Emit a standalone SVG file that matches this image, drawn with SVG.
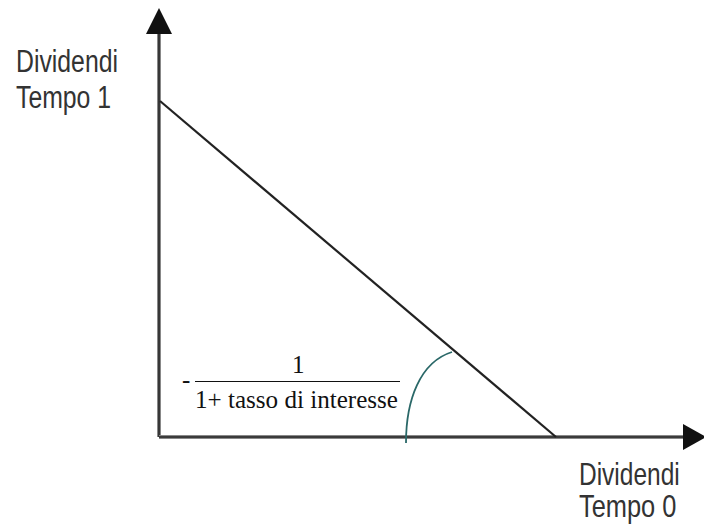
<svg xmlns="http://www.w3.org/2000/svg" width="704" height="527" viewBox="0 0 704 527">
<style>
.lbl{font-family:"Liberation Sans",Arial,sans-serif;font-size:31px;fill:#333}
.math{font-family:"Liberation Serif","Times New Roman",serif;font-size:25px;fill:#111}
.axis-outer{stroke:#888;stroke-width:4;fill:none}
.axis-inner{stroke:#222;stroke-width:1.6;fill:none}
</style>
<rect width="704" height="527" fill="#fff"/>
<g id="connectors">
<g id="y-axis">
<line class="axis-outer" x1="159" y1="30" x2="159" y2="437"/>
<line class="axis-inner" x1="159" y1="30" x2="159" y2="437"/>
<polygon points="159,8 172,34 146,34" fill="#111"/>
</g>
<g id="x-axis">
<line class="axis-outer" x1="159" y1="437" x2="686" y2="437"/>
<line class="axis-inner" x1="159" y1="437" x2="686" y2="437"/>
<polygon points="706,437 683,424 683,450" fill="#111"/>
</g>
<line id="budget-line" x1="160" y1="101" x2="556" y2="437" stroke="#222" stroke-width="2.2"/>
<path id="angle-arc" d="M406,443 C406,400 420,362 452,352" fill="none" stroke="#2a6868" stroke-width="1.8"/>
</g>
<g id="label-y">
<text class="lbl" transform="translate(16,72) scale(0.8,1)" x="0" y="0">Dividendi</text>
<text class="lbl" transform="translate(16,108) scale(0.8,1)" x="0" y="0">Tempo 1</text>
</g>
<g id="label-x">
<text class="lbl" transform="translate(579,485) scale(0.79,1)" x="0" y="0">Dividendi</text>
<text class="lbl" transform="translate(579,517) scale(0.82,1)" x="0" y="0">Tempo 0</text>
</g>
<g id="slope-label">
<text class="math" x="182" y="388">-</text>
<text class="math" x="292" y="373">1</text>
<line x1="195" y1="381.5" x2="400" y2="381.5" stroke="#111" stroke-width="1.2"/>
<text class="math" x="195" y="408" textLength="203" lengthAdjust="spacingAndGlyphs">1+ tasso di interesse</text>
</g>
</svg>
